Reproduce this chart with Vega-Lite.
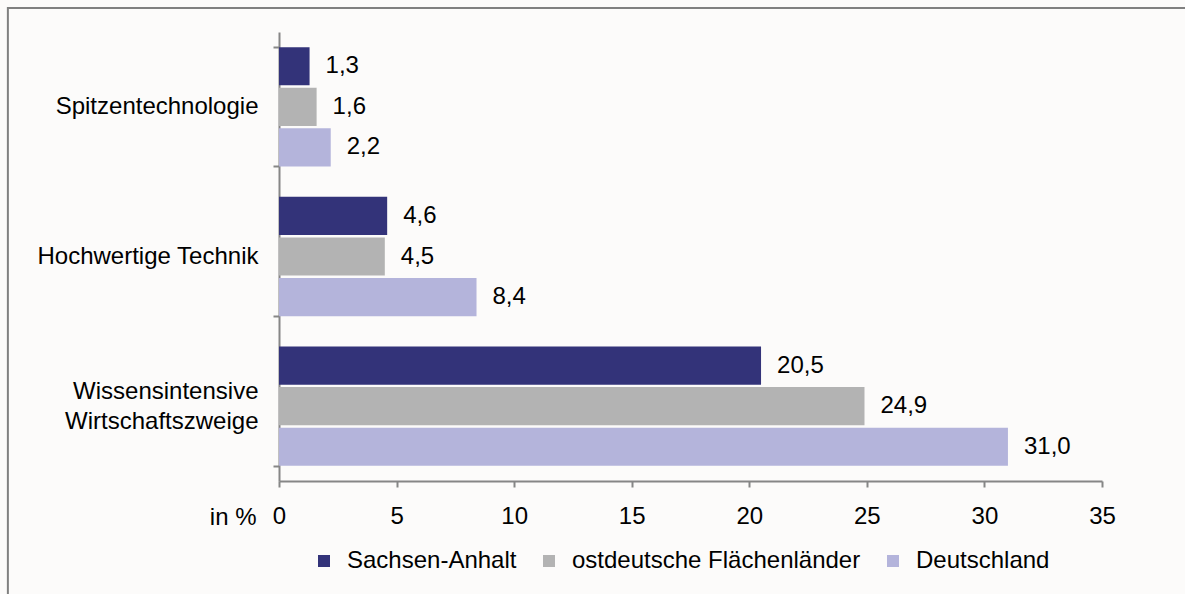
{
  "$schema": "https://vega.github.io/schema/vega-lite/v6.json",
  "width": 823,
  "height": 449,
  "autosize": {"type": "none"},
  "padding": {"left": 279, "top": 32, "right": 83, "bottom": 113},
  "background": "#fcfbfa",
  "config": {
    "locale": {"number": {"decimal": ",", "thousands": ".", "grouping": [3], "currency": ["", " €"]}},
    "view": {"stroke": null},
    "font": "Liberation Sans",
    "axis": {
      "labelFont": "Liberation Sans",
      "labelFontSize": 24,
      "labelColor": "#000000",
      "domainColor": "#868686",
      "domainWidth": 2,
      "tickColor": "#868686",
      "tickWidth": 2,
      "grid": false
    },
    "legend": {"padding": 0}
  },
  "datasets": {
    "bars": [
      {"kategorie": "Spitzentechnologie", "region": "Sachsen-Anhalt", "wert": 1.3},
      {"kategorie": "Spitzentechnologie", "region": "ostdeutsche Flächenländer", "wert": 1.6},
      {"kategorie": "Spitzentechnologie", "region": "Deutschland", "wert": 2.2},
      {"kategorie": "Hochwertige Technik", "region": "Sachsen-Anhalt", "wert": 4.6},
      {"kategorie": "Hochwertige Technik", "region": "ostdeutsche Flächenländer", "wert": 4.5},
      {"kategorie": "Hochwertige Technik", "region": "Deutschland", "wert": 8.4},
      {"kategorie": "Wissensintensive Wirtschaftszweige", "region": "Sachsen-Anhalt", "wert": 20.5},
      {"kategorie": "Wissensintensive Wirtschaftszweige", "region": "ostdeutsche Flächenländer", "wert": 24.9},
      {"kategorie": "Wissensintensive Wirtschaftszweige", "region": "Deutschland", "wert": 31.0}
    ]
  },
  "resolve": {"scale": {"y": "independent"}},
  "layer": [
    {
      "data": {"values": [{}]},
      "mark": {"type": "rect", "fill": null, "stroke": "#808080", "strokeWidth": 2},
      "encoding": {
        "x": {"datum": -11.53, "type": "quantitative", "scale": {"domain": [0, 35], "nice": false, "zero": false}},
        "x2": {"datum": 45},
        "y": {"datum": 1.0535, "type": "quantitative", "scale": {"domain": [0, 1], "nice": false, "zero": false}, "axis": null},
        "y2": {"datum": -0.5}
      }
    },
    {
      "data": {"name": "bars"},
      "layer": [
        {
          "mark": {"type": "bar"},
          "encoding": {
            "y": {
              "field": "kategorie",
              "type": "nominal",
              "sort": ["Spitzentechnologie", "Hochwertige Technik", "Wissensintensive Wirtschaftszweige"],
              "scale": {"paddingInner": 0.203, "paddingOuter": 0.1015},
              "axis": {
                "title": null,
                "tickBand": "extent",
                "tickSize": 6,
                "labelPadding": 15,
                "labelLineHeight": 30,
                "labelLimit": 400,
                "labelOffset": {"condition": {"test": "datum.value == 'Wissensintensive Wirtschaftszweige'", "value": -15}, "value": 0},
                "labelExpr": "datum.value == 'Wissensintensive Wirtschaftszweige' ? ['Wissensintensive', 'Wirtschaftszweige'] : datum.value"
              }
            },
            "yOffset": {
              "field": "region",
              "type": "nominal",
              "sort": ["Sachsen-Anhalt", "ostdeutsche Flächenländer", "Deutschland"],
              "scale": {"paddingInner": 0.06}
            },
            "x": {
              "field": "wert",
              "type": "quantitative",
              "scale": {"domain": [0, 35], "nice": false, "zero": false},
              "axis": {
                "title": "in %",
                "titleX": -23,
                "titleY": 24,
                "titleAlign": "right",
                "titleBaseline": "top",
                "titleFontWeight": "normal",
                "titleFontSize": 24,
                "titleFont": "Liberation Sans",
                "titleColor": "#000000",
                "values": [0, 5, 10, 15, 20, 25, 30, 35],
                "tickSize": 6,
                "labelPadding": 17,
                "labelFlush": false
              }
            },
            "color": {
              "field": "region",
              "type": "nominal",
              "scale": {
                "domain": ["Sachsen-Anhalt", "ostdeutsche Flächenländer", "Deutschland"],
                "range": ["#333379", "#b3b3b3", "#b4b4db"]
              },
              "legend": {
                "orient": "none",
                "legendX": 33,
                "legendY": 517,
                "direction": "horizontal",
                "title": null,
                "symbolType": "square",
                "symbolSize": 144,
                "symbolStrokeWidth": 0,
                "labelFontSize": 24,
                "labelFont": "Liberation Sans",
                "labelColor": "#000000",
                "labelOffset": 11,
                "columnPadding": 20,
                "labelLimit": 400
              }
            }
          }
        },
        {
          "mark": {"type": "text", "align": "left", "baseline": "middle", "dx": 16, "fontSize": 24, "font": "Liberation Sans", "color": "#000000"},
          "encoding": {
            "y": {"field": "kategorie", "type": "nominal", "sort": ["Spitzentechnologie", "Hochwertige Technik", "Wissensintensive Wirtschaftszweige"]},
            "yOffset": {"field": "region", "type": "nominal", "sort": ["Sachsen-Anhalt", "ostdeutsche Flächenländer", "Deutschland"]},
            "x": {"field": "wert", "type": "quantitative"},
            "text": {"field": "wert", "type": "quantitative", "format": ".1f"}
          }
        }
      ]
    }
  ]
}
